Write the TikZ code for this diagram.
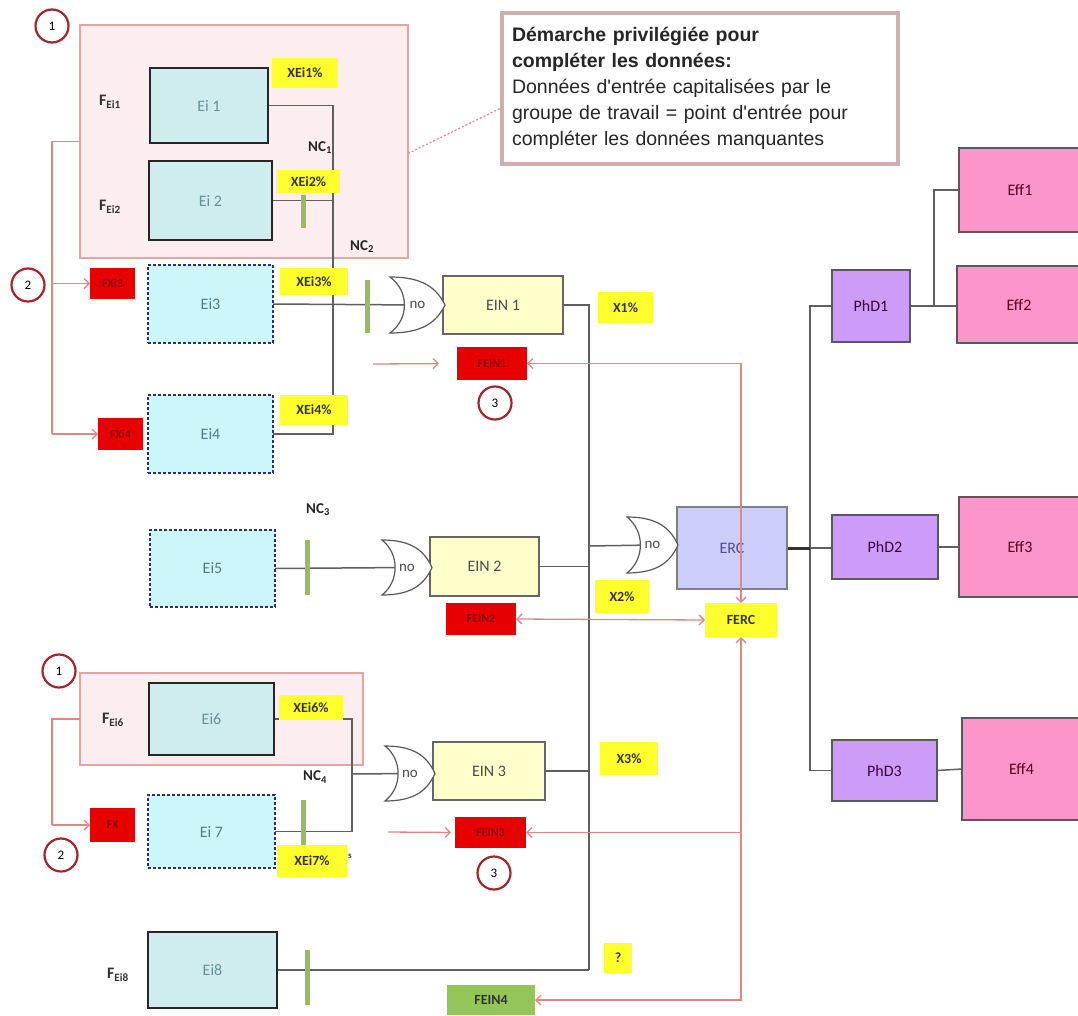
\documentclass[tikz,border=0pt]{standalone}
\usepackage{fontspec}
\setmainfont{Carlito}
\newfontfamily\calloutfont{Liberation Sans}
\usetikzlibrary{arrows.meta,calc}

\definecolor{wire}{HTML}{5F5F5F}
\definecolor{grpfill}{HTML}{FCEEEE}
\definecolor{grpline}{HTML}{E8A3A3}
\definecolor{ringred}{HTML}{A3262A}
\definecolor{flowred}{HTML}{E38585}
\definecolor{cyansolid}{HTML}{CFEDEE}
\definecolor{cyandash}{HTML}{CCF6FA}
\definecolor{eitext}{HTML}{4F7C86}
\definecolor{einfill}{HTML}{FFFFCC}
\definecolor{ercfill}{HTML}{CDCDF9}
\definecolor{phdfill}{HTML}{CC9CF8}
\definecolor{efffill}{HTML}{FC95C9}
\definecolor{tagyellow}{HTML}{FFFF2E}
\definecolor{tagred}{HTML}{E60000}
\definecolor{tagredtext}{HTML}{8A0000}
\definecolor{taggreen}{HTML}{92C659}
\definecolor{bargreen}{HTML}{9BBB59}
\definecolor{callline}{HTML}{CFAFAF}

\pgfdeclarelayer{back}
\pgfdeclarelayer{wires}
\pgfsetlayers{back,wires,main}

\tikzset{
  every node/.style={inner sep=0pt, outer sep=0pt},
  wireline/.style={draw=wire, line width=1.5pt},
  eisolid/.style={draw=black!85, line width=2.6pt, fill=cyansolid, text=eitext!85, font=\fontsize{16}{18}\selectfont},
  eidashed/.style={draw=gray!60!blue!60!black, line width=1.1pt, dash pattern=on 3pt off 2pt, fill=cyandash, text=eitext, font=\fontsize{16}{18}\selectfont},
  einbox/.style={draw=gray!80!black, line width=1.2pt, fill=einfill, text=black!70, font=\fontsize{16}{18}\selectfont},
  ercbox/.style={draw=gray, line width=1.2pt, fill=ercfill, text=blue!40!black!70, font=\fontsize{16}{18}\selectfont},
  phdbox/.style={draw=gray!70!black, line width=1.2pt, fill=phdfill, text=violet!50!black, font=\fontsize{16}{18}\selectfont},
  effbox/.style={draw=gray!70!black, line width=1.2pt, fill=efffill, text=purple!50!black, font=\fontsize{16}{18}\selectfont},
  tagY/.style={fill=tagyellow, text=black!80!olive, font=\bfseries\fontsize{14}{16}\selectfont},
  tagR/.style={fill=tagred, text=tagredtext, font=\bfseries\fontsize{12}{14}\selectfont},
  tagG/.style={fill=taggreen, text=black!80, font=\bfseries\fontsize{14}{16}\selectfont},
  grp/.style={draw=grpline, line width=2pt, fill=grpfill},
  ring/.style={circle, draw=ringred, line width=2.2pt, fill=white, minimum size=33pt, font=\fontsize{13}{15}\selectfont},
  gateline/.style={draw=gray!70!black, line width=1.2pt, fill=white},
  gatetext/.style={font=\fontsize{15}{17}\selectfont, text=black!70},
  flow/.style={draw=flowred, line width=1.3pt},
  flowtip/.style={flow, -{Straight Barb[length=5pt,width=10pt]}},
  flowboth/.style={flow, {Straight Barb[length=5pt,width=10pt]}-{Straight Barb[length=5pt,width=10pt]}},
  ncl/.style={font=\bfseries\fontsize{15}{17}\selectfont, text=black!85},
  flabel/.style={font=\bfseries\fontsize{16}{18}\selectfont, text=black!80},
  nbar/.style={draw=bargreen, line width=5pt},
}

% box from corner (x1,y1) to corner (x2,y2): name, x1, y1, x2, y2, style, text
\newcommand\bx[7]{\node[#6, minimum width={(#4-#2)*1pt}, minimum height={(#5-#3)*1pt}] (#1) at ({(#2+#4)/2},{(#3+#5)/2}) {#7};}

% OR-type gate labelled "no": name, left, top, right, bottom
\newcommand\orgate[5]{%
  \draw[gateline] (#2,#3) .. controls ({#2+0.6*(#4-#2)},#3) and ({#4-0.15*(#4-#2)},{#3+0.2*(#5-#3)}) .. (#4,{(#3+#5)/2})
    .. controls ({#4-0.15*(#4-#2)},{#5-0.2*(#5-#3)}) and ({#2+0.6*(#4-#2)},#5) .. (#2,#5)
    .. controls ({#2+0.35*(#4-#2)},{#5-0.25*(#5-#3)}) and ({#2+0.35*(#4-#2)},{#3+0.25*(#5-#3)}) .. cycle;
  \node[gatetext, minimum width={(#4-#2)*1pt}, minimum height={(#5-#3)*1pt}] (#1) at ({(#2+#4)/2},{(#3+#5)/2}) {no};}

\begin{document}
\begin{tikzpicture}[x=1pt, y=-1pt]
\path[use as bounding box] (0,0) rectangle (1078,1016);
\clip (0,0) rectangle (1078,1016);

\begin{pgfonlayer}{back}
  \fill[white] (0,0) rectangle (1078,1016);
  \bx{grpA}{80}{25}{408}{258}{grp}{}
  \bx{grpB}{80}{673}{363}{765}{grp}{}
\end{pgfonlayer}

% numbered rings
\node[ring] (c1a) at (52,26) {1};
\node[ring] (c2a) at (28,285) {2};
\node[ring] (c3a) at (495,403) {3};
\node[ring] (c1b) at (59,671) {1};
\node[ring] (c2b) at (61,855) {2};
\node[ring] (c3b) at (494,873) {3};

% input elements
\bx{Ei1}{150}{68}{268}{143}{eisolid}{Ei 1}
\bx{Ei2}{149}{161}{272}{240}{eisolid}{Ei 2}
\bx{Ei3}{148}{265}{273}{343}{eidashed}{Ei3}
\bx{Ei4}{148}{395}{273}{473}{eidashed}{Ei4}
\bx{Ei5}{150}{530}{275}{607}{eidashed}{Ei5}
\bx{Ei6}{149}{683}{274}{755}{eisolid}{Ei6}
\bx{Ei7}{148}{795}{275}{868}{eidashed}{Ei 7}
\bx{Ei8}{148}{932}{277}{1008}{eisolid}{Ei8}

% intermediate and top events
\bx{EIN1}{443}{276}{563}{334}{einbox}{EIN 1}
\bx{EIN2}{430}{537}{539}{596}{einbox}{EIN 2}
\bx{EIN3}{433}{742}{545}{800}{einbox}{EIN 3}
\bx{ERC}{677}{507}{787}{589}{ercbox}{ERC}

\bx{PhD1}{832}{270}{910}{342}{phdbox}{PhD1}
\bx{PhD2}{832}{515}{938}{579}{phdbox}{PhD2}
\bx{PhD3}{832}{740}{937}{801}{phdbox}{PhD3}
\bx{Eff1}{959}{148}{1081}{232}{effbox}{Eff1}
\bx{Eff2}{957}{266}{1081}{343}{effbox}{Eff2}
\bx{Eff3}{959}{497}{1081}{597}{effbox}{Eff3}
\bx{Eff4}{962}{718}{1081}{820}{effbox}{Eff4}

% gates
\orgate{g1}{390}{277}{445}{333}
\orgate{g2}{382}{540}{432}{595}
\orgate{g3}{627}{517}{678}{573}
\orgate{g4}{385}{746}{435}{801}

% frequency labels
\node[flabel] (FEi1) at (110,102) {F\textsubscript{Ei1}};
\node[flabel] (FEi2) at (110,207) {F\textsubscript{Ei2}};
\node[flabel] (FEi6) at (113,720) {F\textsubscript{Ei6}};
\node[flabel] (FEi8) at (118,975) {F\textsubscript{Ei8}};

% NC labels
\node[ncl] (NC1) at (320,148) {NC\textsubscript{1}};
\node[ncl] (NC2) at (362,247) {NC\textsubscript{2}};
\node[ncl] (NC3) at (318,510) {NC\textsubscript{3}};
\node[ncl] (NC4) at (315,777) {NC\textsubscript{4}};

% yellow tags
\bx{XEi1}{272}{58}{338}{88}{tagY}{XEi1\%}
\bx{XEi2}{277}{170}{340}{193}{tagY}{XEi2\%}
\bx{XEi3}{280}{268}{348}{295}{tagY}{XEi3\%}
\bx{XEi4}{280}{395}{348}{425}{tagY}{XEi4\%}
\bx{XEi6}{279}{695}{343}{720}{tagY}{XEi6\%}
\bx{XEi7}{277}{845}{347}{877}{tagY}{XEi7\%}
\node[font=\bfseries\fontsize{9}{10}\selectfont, text=black!80] (strays) at (350,856) {s};
\bx{X1}{598}{292}{653}{323}{tagY}{X1\%}
\bx{X2}{595}{580}{649}{613}{tagY}{X2\%}
\bx{X3}{600}{742}{658}{775}{tagY}{X3\%}
\bx{Q}{604}{943}{632}{973}{tagY}{?}
\bx{FERC}{705}{603}{777}{637}{tagY}{FERC}

% red and green frequency tags
\bx{FXi3}{90}{268}{135}{299}{tagR}{FXi3}
\bx{FXi4}{98}{418}{143}{450}{tagR}{FXi4}
\bx{FX}{90}{808}{135}{842}{tagR}{FX}
\bx{FEIN1}{457}{347}{527}{380}{tagR}{FEIN1}
\bx{FEIN2}{446}{603}{516}{635}{tagR}{FEIN2}
\bx{FEIN3}{455}{817}{526}{848}{tagR}{FEIN3}
\bx{FEIN4}{447}{985}{535}{1015}{tagG}{FEIN4}

% note
\node[draw=callline, line width=4pt, fill=white, anchor=north west, text width=376pt, inner xsep=10pt,
      minimum height=151pt, align=left, font=\calloutfont\fontsize{19.5}{26}\selectfont, text=black!85]
  (callout) at (502,13)
  {\textbf{Démarche privilégiée pour}\\ \textbf{compléter les données:}\\ Données d'entrée capitalisées par le\\ groupe de travail = point d'entrée pour\\ compléter les données manquantes};
\draw[draw=flowred, line width=1.2pt, dash pattern=on 2pt off 2pt] ([yshift=-12pt]grpA.east) -- ([yshift=-19pt]callout.west);

% wiring
\begin{pgfonlayer}{wires}
  \coordinate (jA) at (333,304);
  \draw[wireline] (Ei1.east) -| (jA);
  \draw[wireline] (Ei4.east) -| (jA);
  \draw[wireline] (Ei2.east) -- (Ei2.east -| jA);
  \draw[wireline] (Ei3.east) -- (g1.center);
  \draw[wireline] (Ei5.east) -- (g2.center);
  \coordinate (jE) at (352,774);
  \draw[wireline] (Ei6.east) -| (jE);
  \draw[wireline] (Ei7.east) -| (jE);
  \draw[wireline] (jE) -- (g4.center);
  \coordinate (jB) at (589,970);
  \draw[wireline] (EIN1.east) -| (jB);
  \draw[wireline] (Ei8.east) -- (jB);
  \draw[wireline] (EIN2.east) -- (EIN2.east -| jB);
  \draw[wireline] (EIN3.east) -- (EIN3.east -| jB);
  \coordinate (jC) at (589,546);
  \draw[wireline] (jC) -- (g3.center);
  \coordinate (tA) at (810,770.5);
  \draw[wireline] (PhD1.west) -| (tA) -- (PhD3.west);
  \draw[wireline] (ERC.east) -- (ERC.east -| PhD2.west);
  \draw[line width=3pt, black!80] (ERC.east) -- (ERC.east -| tA);
  \draw[wireline] (PhD1.east) -- (PhD1.east -| Eff2.west);
  \coordinate (jD) at (934,306);
  \draw[wireline] (jD) |- (Eff1.west);
  \draw[wireline] (PhD2.east) -- (Eff3.west);
  \draw[wireline] (PhD3.east) -- (Eff4.west);
\end{pgfonlayer}

% barriers on the lines
\draw[nbar] (303,195) -- (303,228);
\draw[nbar] (367,280) -- (367,333);
\draw[nbar] (307,540) -- (307,595);
\draw[nbar] (303,800) -- (303,845);
\draw[nbar] (307,950) -- (307,1005);

% frequency flows
\coordinate (rB) at (52,434);
\coordinate (rC) at (52,825);
\draw[flow] (grpA.west) -| (rB);
\draw[flowtip] (FXi3.west -| rB) -- (FXi3.west);
\draw[flowtip] (rB) -- (FXi4.west);
\draw[flow] (grpB.west) -| (rC);
\draw[flowtip] (rC) -- (FX.west);
\coordinate (aL1) at (373,364);
\draw[flowtip, shorten >=18pt] (aL1) -- (FEIN1.west);
\coordinate (aL3) at (388,832);
\draw[flowtip, shorten >=4pt] (aL3) -- (FEIN3.west);
\draw[flowboth] (FEIN1.east) -| (FERC.north);
\draw[flowboth] (FEIN2.east) -- (FERC.west);
\draw[flowboth] (FEIN4.east) -| (FERC.south);
\draw[flowtip] (FEIN3.east -| FERC.south) -- (FEIN3.east);
\end{tikzpicture}
\end{document}
